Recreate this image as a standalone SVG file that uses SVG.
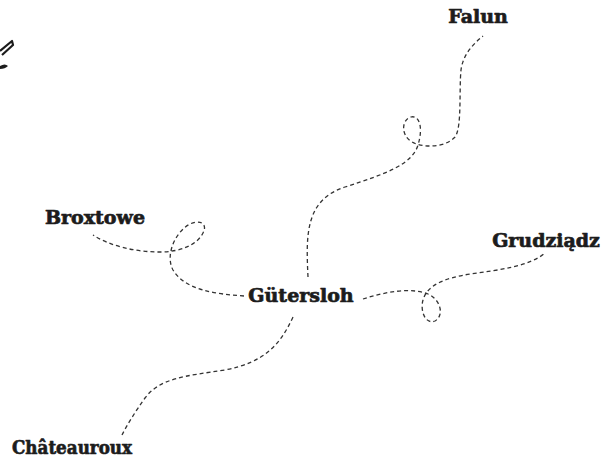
<svg xmlns="http://www.w3.org/2000/svg" width="614" height="459" viewBox="0 0 614 459">
  <style>
    .bg { fill: #ffffff; }
    .label { font-family: "DejaVu Serif", "Liberation Serif", serif; font-weight: bold; font-size: 19px; fill: #1c1c1c; stroke: #1c1c1c; stroke-width: 0.7; stroke-linejoin: round; text-anchor: middle; }
    .link { fill: none; stroke: #333333; stroke-width: 1.3; stroke-dasharray: 4 3; stroke-linecap: butt; }
    .sketch { fill: none; stroke: #1c1c1c; stroke-width: 2.2; stroke-linejoin: round; }
  </style>
  <rect class="bg" x="0" y="0" width="614" height="459"/>

  <!-- decorative pen stroke at the left edge -->
  <g id="pen-mark">
    <path class="sketch" d="M 0 51 L 12 41 L 13 45 L 2 55"/>
    <path d="M 0 66 Q 5 63 8 66 Q 5 69 0 69 Z" fill="#1c1c1c"/>
  </g>

  <!-- connectors -->
  <g id="connectors">
    <path class="link" d="M 308 277 C 306 235, 305 200, 345 187 C 385 174, 412 165, 418 145 C 424 125, 418 115, 411 117 C 402 119, 400 135, 412 142 C 422 148, 445 148, 455 137 C 462 128, 459 90, 461 70 C 463 55, 472 45, 483 36"/>
    <path class="link" d="M 244 296 C 215 294, 185 290, 173 270 C 165 255, 175 232, 190 224 C 200 219, 208 224, 203 233 C 197 245, 180 252, 160 252 C 135 252, 110 246, 93 235"/>
    <path class="link" d="M 363 299 C 385 292, 410 287, 428 294 C 440 299, 445 315, 435 321 C 425 325, 420 310, 423 300 C 427 285, 445 278, 470 274 C 500 270, 530 266, 545 253"/>
    <path class="link" d="M 293 317 C 280 345, 265 362, 225 370 C 185 376, 160 378, 145 398 C 135 412, 127 425, 122 435"/>
  </g>

  <!-- nodes -->
  <g id="node-guetersloh"><text class="label" x="301" y="302">Gütersloh</text></g>
  <g id="node-falun"><text class="label" x="478" y="23">Falun</text></g>
  <g id="node-broxtowe"><text class="label" x="95" y="224">Broxtowe</text></g>
  <g id="node-grudziadz"><text class="label" x="546" y="247">Grudziądz</text></g>
  <g id="node-chateauroux"><text class="label" x="72" y="454" textLength="120" lengthAdjust="spacingAndGlyphs">Châteauroux</text></g>
</svg>
